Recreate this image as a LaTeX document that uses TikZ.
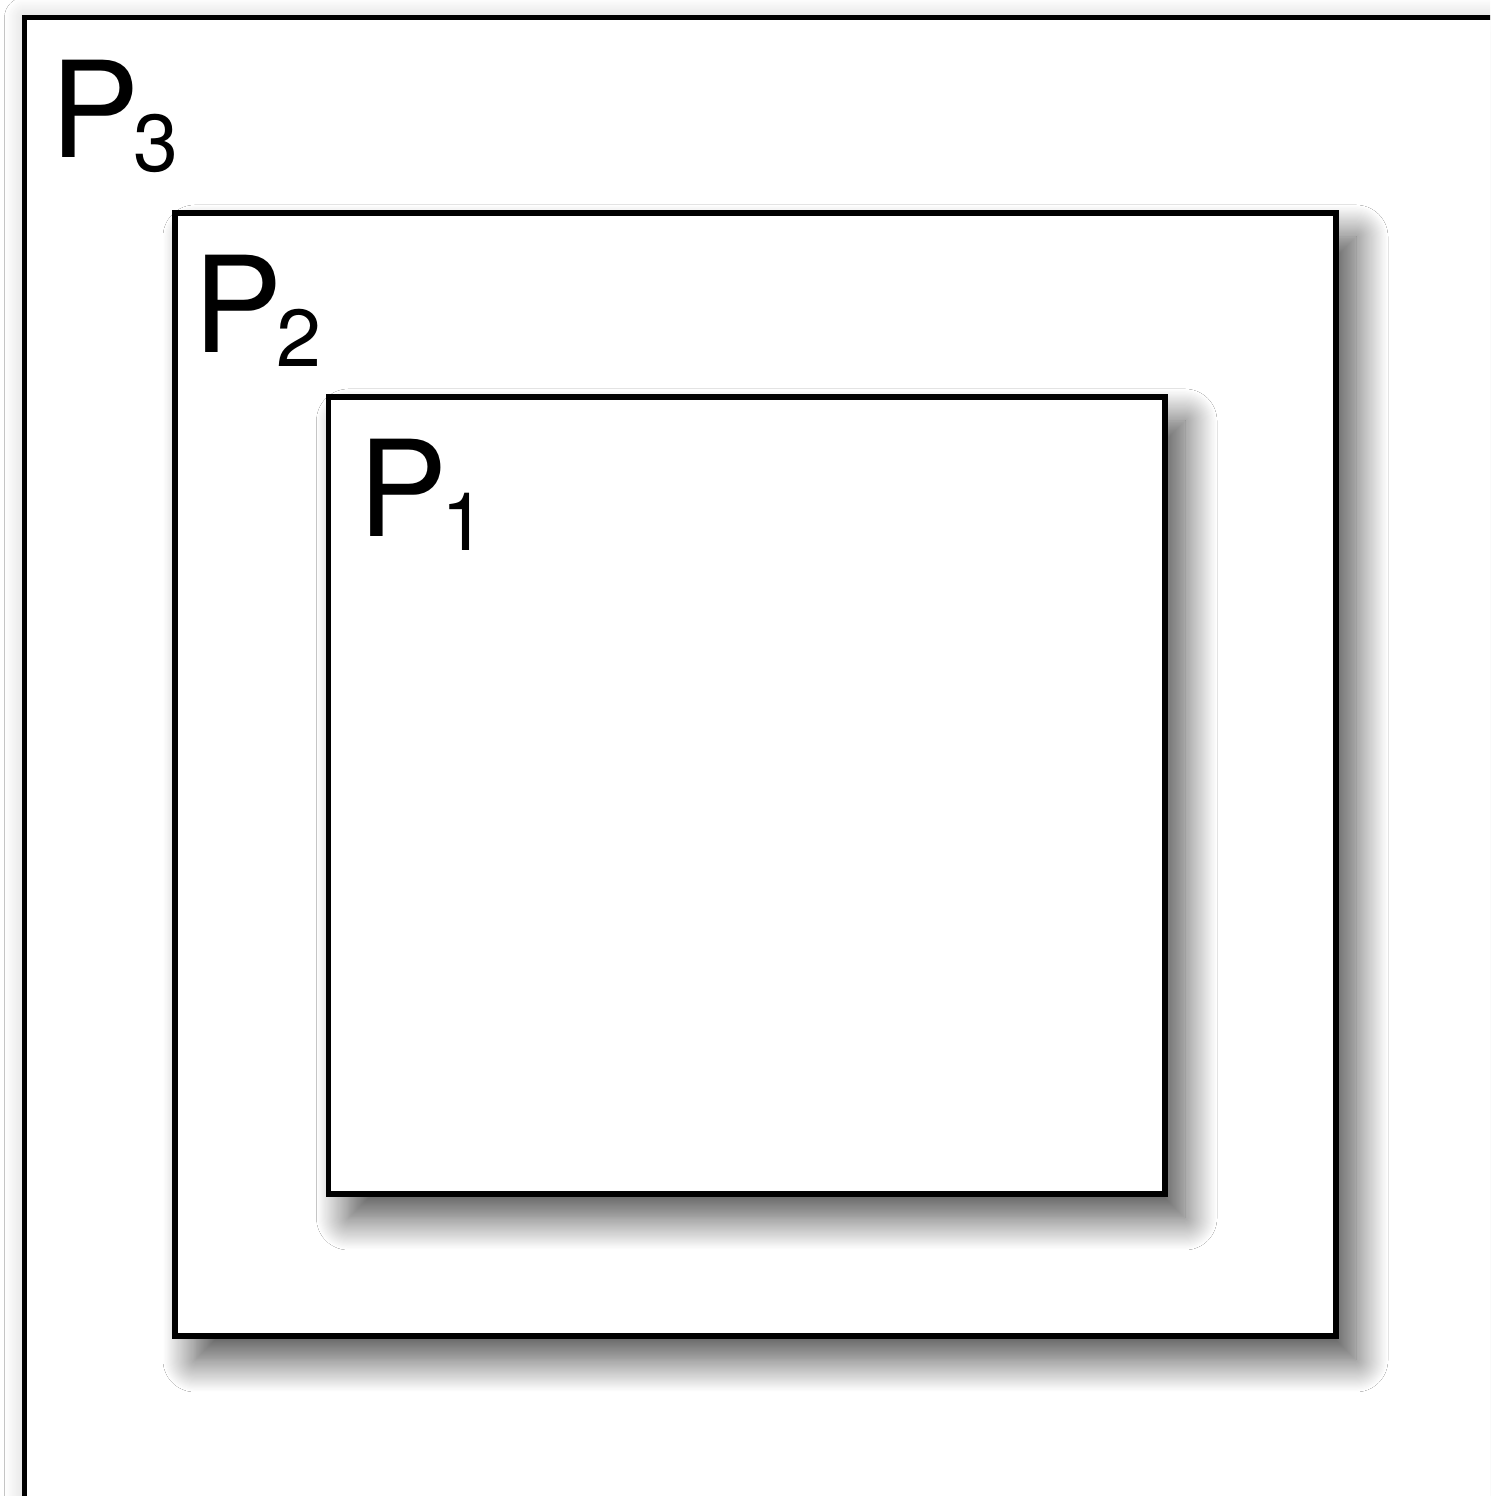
\documentclass[tikz,border=0pt]{standalone}
\usepackage{fontspec}
\setmainfont{TeX Gyre Heros}
\usetikzlibrary{positioning,shadows.blur}

\newcommand{\plabel}[1]{P\kern-0.04em\raisebox{-0.1em}{\fontsize{23}{24}\selectfont #1}}

\begin{document}
\begin{tikzpicture}[
  box/.style={draw,line width=1.5pt,fill=white,anchor=north west,inner sep=0pt,outer sep=0pt},
  drop/.style={blur shadow={shadow xshift=0.2cm,shadow yshift=-0.24cm,
    shadow blur radius=0.32cm,shadow blur steps=30,shadow opacity=70}},
  halo/.style={blur shadow={shadow xshift=0cm,shadow yshift=0cm,
    shadow blur radius=0.2cm,shadow blur steps=20,shadow opacity=20}},
  tag/.style={anchor=base west,inner sep=0pt,font=\fontsize{38}{40}\selectfont}
]
  \clip (0,0) rectangle (14.90,14.96);
  \fill[white] (0,0) rectangle (14.90,14.96);

  \node[box,halo,minimum width=15cm,minimum height=15cm] (p3) at (0.245,14.785) {};
  \node[box,drop,minimum width=11.61cm,minimum height=11.23cm] (p2) at (1.75,12.83) {};
  \node[box,drop,minimum width=8.365cm,minimum height=7.97cm] (p1) at (3.285,10.99) {};

  \node[tag] (l3) at ([shift={(0.25,-1.405)}]p3.north west) {\plabel{3}};
  \node[tag] (l2) at ([shift={(0.175,-1.40)}]p2.north west) {\plabel{2}};
  \node[tag] (l1) at ([shift={(0.29,-1.40)}]p1.north west) {\plabel{1}};
\end{tikzpicture}
\end{document}
